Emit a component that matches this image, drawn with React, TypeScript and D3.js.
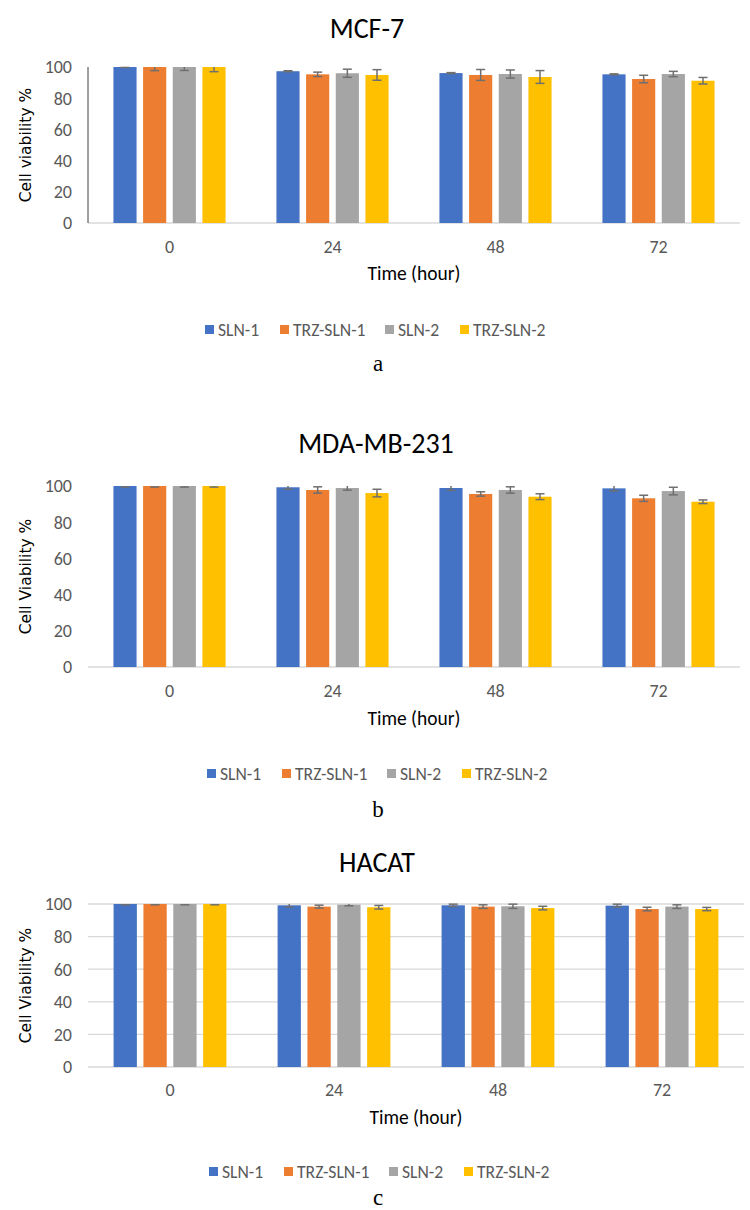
import React from 'react';
import * as d3 from 'd3';

// categories and series
const times = ['0', '24', '48', '72'];
const seriesNames = ['SLN-1', 'TRZ-SLN-1', 'SLN-2', 'TRZ-SLN-2'];
const seriesColors = ['#4472C4', '#ED7D31', '#A5A5A5', '#FFC000'];
const yTicks = [0, 20, 40, 60, 80, 100];

// mean viability %, one row per series, columns = 0, 24, 48, 72 h
const mcf7Mean = [
  [100, 97.3, 96.1, 95.3],
  [100, 95.3, 94.9, 92.3],
  [100, 96.0, 95.5, 95.5],
  [100, 94.9, 93.6, 91.2],
];
const mcf7Err = [
  [0.3, 0.3, 0.3, 0.3],
  [2.3, 1.4, 3.5, 2.4],
  [2.2, 2.6, 2.6, 1.7],
  [3.0, 3.4, 4.1, 2.1],
];

const mdaMean = [
  [100, 99.3, 98.9, 98.7],
  [100, 97.8, 95.6, 93.2],
  [100, 98.9, 97.8, 97.2],
  [100, 96.1, 94.1, 91.3],
];
const mdaErr = [
  [0.6, 1.1, 1.3, 1.4],
  [0.6, 1.75, 1.2, 1.7],
  [0.6, 1.2, 1.75, 2.1],
  [0.6, 2.1, 1.6, 1.0],
];

const hacatMean = [
  [100, 99.2, 99.2, 99.0],
  [100, 98.4, 98.4, 96.9],
  [100, 99.6, 98.6, 98.4],
  [100, 98.0, 97.5, 96.9],
];
const hacatErr = [
  [0.5, 1.0, 0.7, 0.9],
  [0.5, 0.9, 1.1, 1.1],
  [0.5, 0.7, 1.3, 1.1],
  [0.5, 1.1, 1.1, 1.0],
];

const calibri = "'Liberation Sans Narrow', 'Arial Narrow', Carlito, Roboto, sans-serif";
const gothic = "'DejaVu Sans', Lato, sans-serif";
const serif = "'Liberation Serif', 'DejaVu Serif', serif";

const panels = [
  {
    title: 'MCF-7', letter: 'a', yTitle: 'Cell viability %',
    mean: mcf7Mean, err: mcf7Err, axis: 'line',
    top: 67, bottom: 223, right: 740,
    titleX: 367, titleY: 38, catY: 253, timeY: 280, legendY: 330, legendDx: 0, letterY: 371,
  },
  {
    title: 'MDA-MB-231', letter: 'b', yTitle: 'Cell Viability %',
    mean: mdaMean, err: mdaErr, axis: 'base',
    top: 486, bottom: 667, right: 740,
    titleX: 376, titleY: 453, catY: 697, timeY: 725, legendY: 774, legendDx: 2, letterY: 817,
  },
  {
    title: 'HACAT', letter: 'c', yTitle: 'Cell Viability %',
    mean: hacatMean, err: hacatErr, axis: 'grid',
    top: 904, bottom: 1067, right: 744,
    titleX: 377, titleY: 872, catY: 1096, timeY: 1124, legendY: 1172, legendDx: 4, letterY: 1205,
  },
];

const legendX = [205, 280, 385, 460];

function Panel({ cfg }) {
  const left = 88;
  const x = d3.scaleBand().domain(times).range([left, cfg.right]);
  const half = x.bandwidth() * 0.344;
  const xs = d3.scaleBand().domain(seriesNames).range([-half, half]).paddingInner(0.22);
  const y = d3.scaleLinear().domain([0, 100]).range([cfg.bottom, cfg.top]);
  const cap = 4.5;

  const bars = [];
  const errs = [];
  seriesNames.forEach((s, si) => {
    times.forEach((t, ti) => {
      const v = cfg.mean[si][ti];
      const e = cfg.err[si][ti];
      const bx = x(t) + x.bandwidth() / 2 + xs(s);
      bars.push(
        <rect key={`b${si}${ti}`} x={bx} y={y(v)} width={xs.bandwidth()}
          height={y(0) - y(v)} fill={seriesColors[si]} />
      );
      const cx = bx + xs.bandwidth() / 2;
      const hi = Math.min(100, v + e);
      errs.push(
        <g key={`e${si}${ti}`} stroke="#6f6f6f" strokeWidth={1.5}>
          <line x1={cx} x2={cx} y1={y(hi)} y2={y(v - e)} />
          <line x1={cx - cap} x2={cx + cap} y1={y(v - e)} y2={y(v - e)} />
          {v + e <= 100 && <line x1={cx - cap} x2={cx + cap} y1={y(hi)} y2={y(hi)} />}
        </g>
      );
    });
  });

  return (
    <g>
      <text x={cfg.titleX} y={cfg.titleY} textAnchor="middle" fontFamily={calibri}
        fontSize={28} fill="#000">{cfg.title}</text>

      {cfg.axis === 'grid' && yTicks.map(t => (
        <line key={t} x1={left} x2={cfg.right} y1={y(t)} y2={y(t)} stroke="#d9d9d9" strokeWidth={1.3} />
      ))}
      {cfg.axis !== 'grid' && (
        <line x1={left} x2={cfg.right} y1={y(0)} y2={y(0)} stroke="#d9d9d9" strokeWidth={1.5} />
      )}
      {cfg.axis === 'line' && (
        <line x1={left} x2={left} y1={y(100)} y2={y(0)} stroke="#404040" strokeWidth={1} />
      )}

      {yTicks.map(t => (
        <text key={t} x={72} y={y(t)} dy="0.36em" textAnchor="end" fontFamily={calibri}
          fontSize={18} fill="#595959">{t}</text>
      ))}
      <text transform={`translate(31,${(cfg.top + cfg.bottom) / 2}) rotate(-90)`}
        textAnchor="middle" fontFamily={gothic} fontSize={15.5} fill="#000">{cfg.yTitle}</text>

      {bars}
      {errs}

      {times.map(t => (
        <text key={t} x={x(t) + x.bandwidth() / 2} y={cfg.catY} textAnchor="middle"
          fontFamily={calibri} fontSize={18} fill="#595959">{t}</text>
      ))}
      <text x={(left + cfg.right) / 2} y={cfg.timeY} textAnchor="middle" fontFamily={calibri}
        fontSize={19.5} fill="#000">Time (hour)</text>

      {seriesNames.map((s, i) => (
        <g key={s} transform={`translate(${legendX[i] + cfg.legendDx},${cfg.legendY})`}>
          <rect x={0} y={-5} width={9} height={9} fill={seriesColors[i]} />
          <text x={13} y={0} dy="0.36em" fontFamily={calibri} fontSize={17.6} fill="#595959">{s}</text>
        </g>
      ))}

      <text x={378} y={cfg.letterY} textAnchor="middle" fontFamily={serif} fontSize={23} fill="#000">
        {cfg.letter}
      </text>
    </g>
  );
}

export default function App() {
  return (
    <svg width={750} height={1210} style={{ position: 'absolute', left: 0, top: 0, background: '#fff' }}>
      <rect width={750} height={1210} fill="#fff" />
      {panels.map(p => <Panel key={p.title} cfg={p} />)}
    </svg>
  );
}
